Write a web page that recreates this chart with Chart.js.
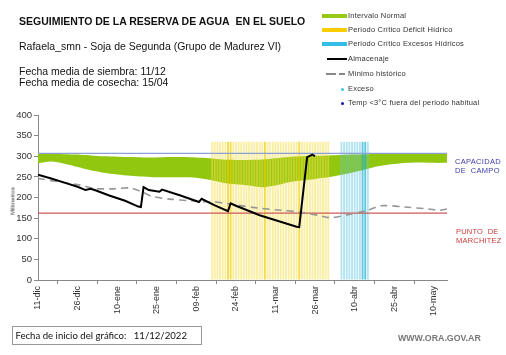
<!DOCTYPE html>
<html>
<head>
<meta charset="utf-8">
<script src="https://cdn.jsdelivr.net/npm/chart.js@4.4.0/dist/chart.umd.min.js"></script>
<style>
  body { margin: 0; width: 506px; height: 355px; background: #fff; position: relative; overflow: hidden;
         font-family: "Liberation Sans", Arial, sans-serif; }
  #chart { position: absolute; left: 0; top: 0; width: 506px; height: 355px; }
  .t { position: absolute; white-space: nowrap; color: #111; line-height: 12px; }
  .lg { position: absolute; left: 348px; font-size: 7.5px; color: #333; white-space: nowrap; line-height: 10px; letter-spacing: 0.2px; }
  .sw { position: absolute; }
</style>
</head>
<body>
<canvas id="chart" width="506" height="355"></canvas>

<div class="t" style="left:19px;top:15px;font-size:10.5px;font-weight:bold;">SEGUIMIENTO DE LA RESERVA DE AGUA&nbsp; EN EL SUELO</div>
<div class="t" style="left:19px;top:40px;font-size:10.5px;">Rafaela_smn - Soja de Segunda (Grupo de Madurez VI)</div>
<div class="t" style="left:19px;top:65px;font-size:10.5px;">Fecha media de siembra: 11/12</div>
<div class="t" style="left:19px;top:76px;font-size:10.5px;">Fecha media de cosecha: 15/04</div>

<!-- legend -->
<div class="sw" style="left:322px;top:14px;width:25px;height:4px;background:rgb(150,200,20)"></div>
<div class="lg" style="top:11px">Intervalo Normal</div>
<div class="sw" style="left:322px;top:28px;width:25px;height:4px;background:rgb(250,205,0)"></div>
<div class="lg" style="top:25px">Periodo Crítico Déficit Hídrico</div>
<div class="sw" style="left:322px;top:42px;width:25px;height:4px;background:rgb(50,190,230)"></div>
<div class="lg" style="top:39px">Periodo Crítico Excesos Hídricos</div>
<div class="sw" style="left:327px;top:58px;width:20px;height:2px;background:#000"></div>
<div class="lg" style="top:54px">Almacenaje</div>
<div class="sw" style="left:326px;top:73px;width:10px;height:1.5px;background:#888"></div>
<div class="sw" style="left:339px;top:73px;width:6px;height:1.5px;background:#888"></div>
<div class="lg" style="top:69px">Mínimo histórico</div>
<div class="sw" style="left:341px;top:88px;width:3px;height:3px;border-radius:50%;background:rgb(60,200,220)"></div>
<div class="lg" style="top:84px">Exceso</div>
<div class="sw" style="left:341px;top:102px;width:3px;height:3px;border-radius:50%;background:rgb(20,20,170)"></div>
<div class="lg" style="top:98px">Temp &lt;3°C fuera del periodo habitual</div>

<div class="t" style="left:455px;top:157px;font-size:7.5px;line-height:9px;color:rgb(60,60,170);letter-spacing:0.3px;">CAPACIDAD<br>DE&nbsp; CAMPO</div>
<div class="t" style="left:456px;top:228px;font-size:7.5px;line-height:8.5px;color:rgb(200,60,60);letter-spacing:0.2px;">PUNTO&nbsp; DE<br>MARCHITEZ</div>

<div class="t" style="left:13px;top:201px;font-size:6px;line-height:7px;color:#333;transform:translate(-50%,-50%) rotate(-90deg);transform-origin:50% 50%;">Milímetros</div>

<div class="t" style="left:12px;top:326px;width:188px;height:17px;border:1px solid #999;font-family:Lato,'Open Sans',sans-serif;font-size:9.6px;line-height:17px;">&nbsp;Fecha de inicio del gráfico:&nbsp;&nbsp; 11/12/2022</div>
<div class="t" style="left:398px;top:332px;font-size:8.8px;font-weight:bold;color:#777;">WWW.ORA.GOV.AR</div>

<script>
// x values are days since 11-dic (chart start)
const tickLabels = ["11-dic", "26-dic", "10-ene", "25-ene", "09-feb", "24-feb", "11-mar", "26-mar", "10-abr", "25-abr", "10-may"]
const lastDay = 155

// Intervalo normal (band)
const bandDays = [0, 5, 10, 15, 20, 25, 30, 35, 40, 45, 50, 55, 60, 65, 70, 75, 80, 85, 90, 95, 100, 105, 110, 115, 120, 125, 130, 135, 140, 145, 150, 155]
const bandLow  = [283, 287, 282, 274, 266, 260, 256, 253, 251, 249, 249, 249, 248, 243, 236, 232, 229, 225, 229, 237, 241, 245, 249, 255, 262, 270, 277, 281, 284, 285, 284, 284]
const bandHigh = [306, 306, 305, 304, 302, 300, 299, 298, 297, 297, 298, 298, 297, 295, 292, 291, 291, 292, 295, 298, 300, 301, 302, 303, 304, 305, 306, 306, 306, 306, 306, 306]

// Almacenaje
const almDays = [0, 5, 10, 15, 18, 20, 22, 27, 33, 38, 39, 40, 42, 46, 47, 54, 61, 62, 67, 72, 73, 75, 84, 91, 98, 99, 102, 104, 105]
const almVals = [255, 246, 236, 226, 218, 221, 217, 205, 192, 178, 177, 225, 218, 214, 219, 205, 189, 197, 181, 167, 186, 180, 157, 143, 129, 128, 298, 304, 300]

// Minimo historico
const minDays = [0, 8, 16, 21, 28, 35, 40, 43, 50, 58, 62, 67, 72, 76, 84, 92, 99, 106, 111, 118, 125, 130, 139, 148, 152, 155]
const minVals = [246, 238, 230, 222, 221, 223, 212, 203, 196, 192, 190, 189, 185, 181, 174, 169, 165, 157, 151, 159, 169, 180, 177, 172, 169, 172]

// critical periods (one stripe per day)
const deficitDays = [66, 67, 68, 69, 70, 71, 72, 73, 74, 75, 76, 77, 78, 79, 80, 81, 82, 83, 84, 85, 86, 87, 88, 89, 90, 91, 92, 93, 94, 95, 96, 97, 98, 99, 100, 101, 102, 103, 104, 105, 106, 107, 108, 109, 110]
const deficitStrong = [72, 73, 86, 99]
const excessDays = [115, 116, 117, 118, 119, 120, 121, 122, 123, 124, 125]
const excessStrong = [123, 124]
const stripeTop = 335

const capacidadCampo = 307
const puntoMarchitez = 162

const pts = (xs, ys) => xs.map((x, i) => ({ x: x, y: ys[i] }))
const flat = (v) => [{ x: 0, y: v }, { x: lastDay, y: v }]

const ctx = document.getElementById("chart").getContext("2d")
new Chart(ctx, {
    data: {
        datasets: [
            { type: "line", label: "bandLow", data: pts(bandDays, bandLow), borderWidth: 0, pointRadius: 0, fill: false, tension: 0.3, order: 10 },
            { type: "line", label: "Intervalo Normal", data: pts(bandDays, bandHigh), borderWidth: 0, pointRadius: 0,
              fill: "-1", backgroundColor: "rgb(145,200,15)", tension: 0.3, order: 10 },
            { type: "bar", label: "Déficit", data: deficitDays.map(d => ({ x: d, y: stripeTop })), grouped: false,
              barPercentage: 0.72, categoryPercentage: 1, order: 5,
              backgroundColor: c => deficitStrong.includes(c.raw && c.raw.x) ? "rgba(240,205,0,0.7)" : "rgba(245,222,70,0.5)" },
            { type: "bar", label: "Excesos", data: excessDays.map(d => ({ x: d, y: stripeTop })), grouped: false,
              barPercentage: 0.72, categoryPercentage: 1, order: 5,
              backgroundColor: c => excessStrong.includes(c.raw && c.raw.x) ? "rgba(30,175,215,0.7)" : "rgba(90,195,225,0.45)" },
            { type: "line", label: "Capacidad", data: flat(capacidadCampo), borderColor: "rgb(140,160,215)", borderWidth: 1.2, pointRadius: 0, order: 2 },
            { type: "line", label: "Marchitez", data: flat(puntoMarchitez), borderColor: "rgb(205,90,90)", borderWidth: 1.2, pointRadius: 0, order: 2 },
            { type: "line", label: "Mínimo histórico", data: pts(minDays, minVals), borderColor: "rgb(150,150,150)", borderWidth: 1.6,
              borderDash: [7, 5], pointRadius: 0, tension: 0.3, order: 1 },
            { type: "line", label: "Almacenaje", data: pts(almDays, almVals), borderColor: "#000", borderWidth: 2, pointRadius: 0, order: 0 }
        ]
    },
    options: {
        responsive: false,
        animation: false,
        events: [],
        layout: { padding: { top: 115, right: 59, left: 0, bottom: 0 } },
        plugins: { legend: { display: false }, tooltip: { enabled: false } },
        scales: {
            x: {
                type: "linear", min: 0, max: lastDay, offset: false,
                afterBuildTicks: s => { s.ticks = tickLabels.map((_, i) => ({ value: i * 15 })) },
                afterFit: s => { s.height = 75 },
                ticks: { autoSkip: false, minRotation: 90, maxRotation: 90, padding: 2, color: "#333",
                         font: { family: "Liberation Sans", size: 9 },
                         callback: v => tickLabels[Math.round(v / 15)] },
                grid: { drawOnChartArea: false, tickLength: 4, color: "#888" },
                border: { color: "#888" }
            },
            y: {
                min: 0, max: 400,
                afterFit: s => { s.width = 38 },
                ticks: { stepSize: 50, padding: 2, color: "#333", font: { family: "Liberation Sans", size: 9.5 } },
                grid: { drawOnChartArea: false, tickLength: 4, color: "#888" },
                border: { color: "#888" }
            }
        }
    }
})
</script>
</body>
</html>
